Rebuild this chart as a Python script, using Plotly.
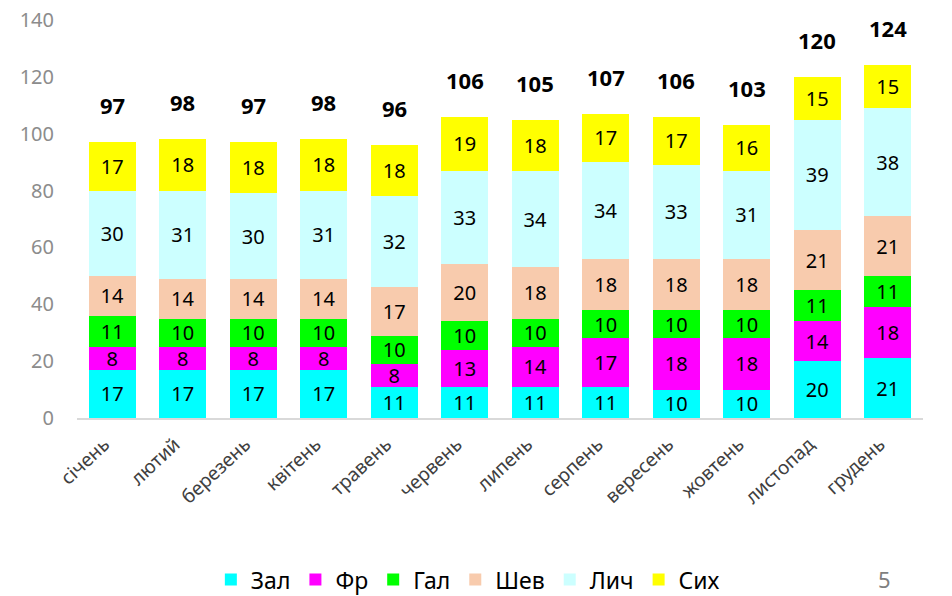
import plotly.graph_objects as go

months = ["січень", "лютий", "березень", "квітень", "травень", "червень",
          "липень", "серпень", "вересень", "жовтень", "листопад", "грудень"]
zal = [17, 17, 17, 17, 11, 11, 11, 11, 10, 10, 20, 21]
fr = [8, 8, 8, 8, 8, 13, 14, 17, 18, 18, 14, 18]
gal = [11, 10, 10, 10, 10, 10, 10, 10, 10, 10, 11, 11]
shev = [14, 14, 14, 14, 17, 20, 18, 18, 18, 18, 21, 21]
lych = [30, 31, 30, 31, 32, 33, 34, 34, 33, 31, 39, 38]
sykh = [17, 18, 18, 18, 18, 19, 18, 17, 17, 16, 15, 15]
totals = [97, 98, 97, 98, 96, 106, 105, 107, 106, 103, 120, 124]
y_ticks = [0, 20, 40, 60, 80, 100, 120, 140]

series = [
    ("Зал", zal, "#00FFFF"),
    ("Фр", fr, "#FF00FF"),
    ("Гал", gal, "#00FF00"),
    ("Шев", shev, "#F8CBAD"),
    ("Лич", lych, "#CCFFFF"),
    ("Сих", sykh, "#FFFF00"),
]

FONT = "Noto Sans"
fig = go.Figure()
for name, vals, color in series:
    fig.add_trace(go.Bar(
        x=months, y=vals, name=name,
        marker=dict(color=color, line=dict(width=0)),
        text=[str(v) for v in vals], textposition="inside",
        insidetextanchor="middle", textangle=0,
        textfont=dict(family=FONT, size=20, color="#000000"),
    ))

for m, t in zip(months, totals):
    fig.add_annotation(x=m, y=t, text="<b>%d</b>" % t, showarrow=False,
                       yanchor="bottom", yshift=20,
                       font=dict(family=FONT, size=22, color="#000000"))

fig.add_annotation(xref="paper", yref="paper", x=0.955, y=-0.405,
                   text="5", showarrow=False, xanchor="center", yanchor="middle",
                   font=dict(family=FONT, size=22, color="#7f7f7f"))

fig.update_layout(
    barmode="stack", bargap=0.33,
    width=952, height=596,
    margin=dict(l=69, r=37, t=12, b=186, autoexpand=False),
    plot_bgcolor="white", paper_bgcolor="white",
    uniformtext=dict(minsize=20, mode="show"),
    showlegend=True,
    legend=dict(orientation="h", x=0.462, xanchor="center", y=-0.406, yanchor="middle",
                font=dict(family=FONT, size=23, color="#000000"),
                itemwidth=30, traceorder="normal", itemclick=False),
    xaxis=dict(showgrid=False, showline=True, linecolor="#D9D9D9", linewidth=2,
               tickangle=-43, ticks="", automargin=False,
               ticklabelstandoff=6, ticklabelshift=-8,
               tickfont=dict(family=FONT, size=19, color="#404040")),
    yaxis=dict(range=[0, 140], tickvals=y_ticks, showgrid=False, zeroline=False,
               showline=False, ticks="", ticklabelstandoff=22, automargin=False,
               ticklabeloverflow="allow",
               tickfont=dict(family=FONT, size=20, color="#8C8C8C")),
)

fig.write_html("out.html")
